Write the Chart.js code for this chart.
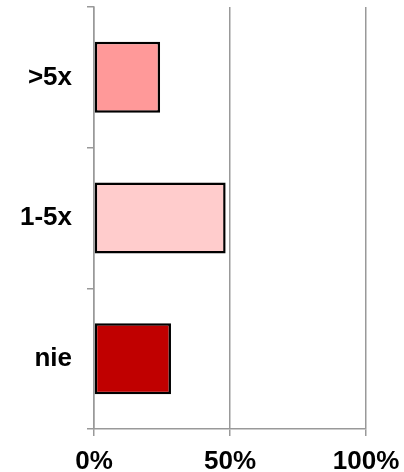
<!DOCTYPE html>
<html>
<head>
<meta charset="utf-8">
<script src="https://cdn.jsdelivr.net/npm/chart.js@4"></script>
<style>
    html, body { margin: 0; padding: 0; background: #fff; }
    #wrap { width: 404px; height: 472px; }
</style>
</head>
<body>
<div id="wrap"><canvas id="freqChart" width="404" height="472"></canvas></div>
<script>
// 응답 분포 (가로 막대)
const categories = ['>5x', '1-5x', 'nie'];
const shares = [24.3, 48.4, 28.3];
const barColors = ['#ff9999', '#ffcccc', '#c00000'];
const xTicks = [0, 50, 100];

const gridGray = '#999999';
const labelFont = { family: '"Liberation Sans", Arial, sans-serif', size: 26, weight: 'bold' };

const ctx = document.getElementById('freqChart').getContext('2d');

new Chart(ctx, {
    type: 'bar',
    data: {
        labels: categories,
        datasets: [
            {
                data: shares,
                backgroundColor: barColors,
                borderColor: '#000',
                borderWidth: 2.5,
                borderSkipped: false,
                barPercentage: 0.505,
                categoryPercentage: 1,
            },
        ],
    },
    options: {
        indexAxis: 'y',
        responsive: false,
        animation: false,
        layout: { padding: { top: 7, right: 38, left: 0, bottom: 0 } },
        plugins: {
            legend: { display: false },
            tooltip: { enabled: false },
        },
        scales: {
            x: {
                min: 0,
                max: 100,
                afterBuildTicks: (scale) => {
                    scale.ticks = xTicks.map((v) => ({ value: v }));
                },
                afterFit: (scale) => {
                    scale.height = 43;
                    scale.paddingLeft = 0;
                    scale.paddingRight = 0;
                },
                ticks: {
                    color: '#000',
                    font: labelFont,
                    padding: 10,
                    callback: (v) => v + '%',
                },
                grid: { color: gridGray, lineWidth: 1.5, tickLength: 7 },
                border: { color: gridGray, width: 1.5 },
            },
            y: {
                afterFit: (scale) => {
                    scale.width = 94;
                    scale.paddingTop = 0;
                    scale.paddingBottom = 0;
                },
                ticks: { color: '#000', font: labelFont, padding: 15 },
                grid: {
                    offset: true,
                    drawOnChartArea: false,
                    color: gridGray,
                    lineWidth: 1.5,
                    tickLength: 7,
                },
                border: { color: gridGray, width: 1.5 },
            },
        },
    },
});
</script>
</body>
</html>
